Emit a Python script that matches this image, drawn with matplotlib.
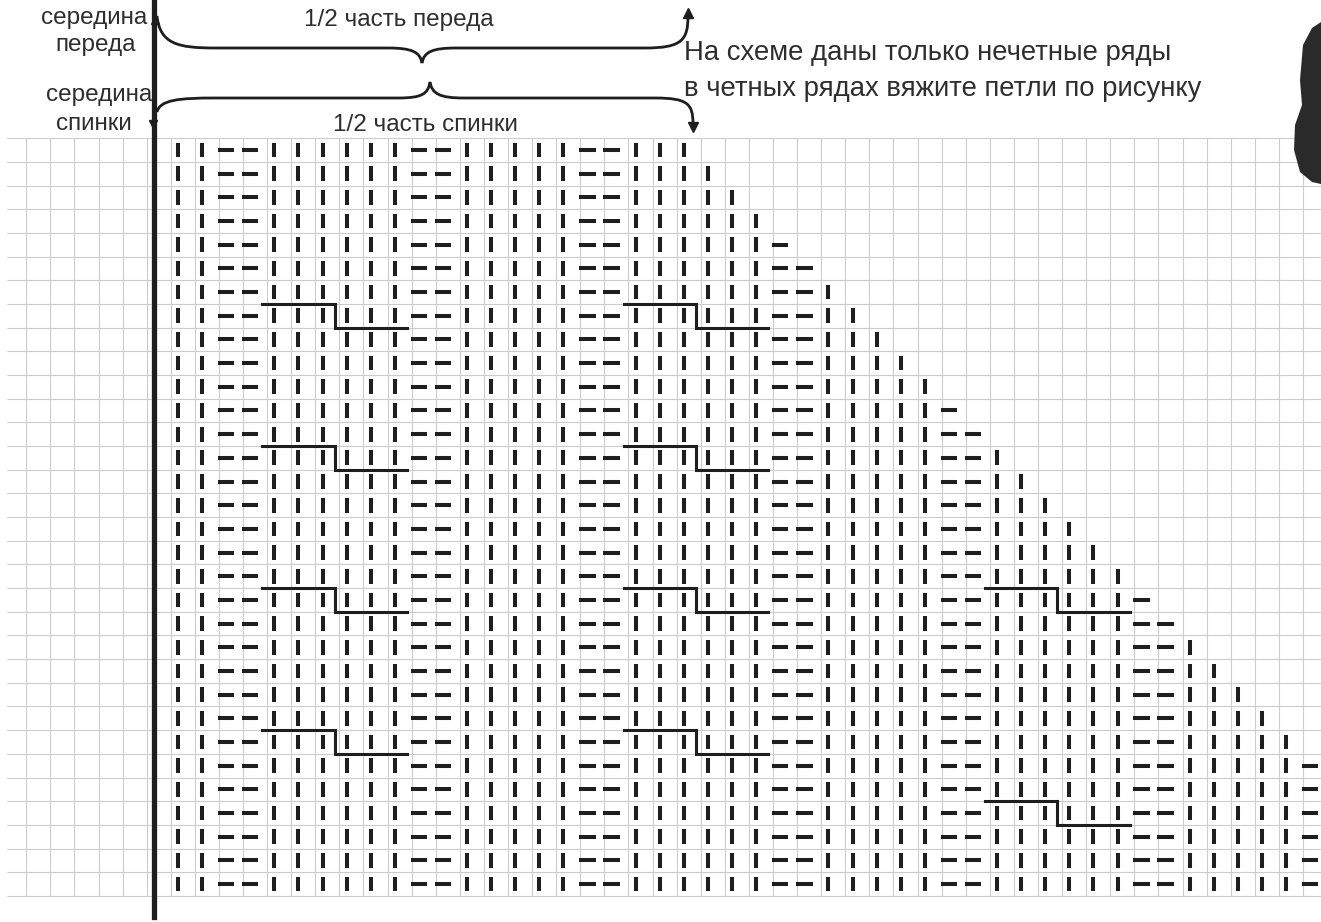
import matplotlib.pyplot as plt
from matplotlib.collections import LineCollection
from matplotlib.path import Path
from matplotlib.patches import PathPatch, Polygon

# Типы петель по столбцам (K = лицевая "|", P = изнаночная "—")
stitches = ("K K P P K K K K K K P P K K K K K P P K K K K K K P P "
            "K K K K K P P K K K K K K P P K K K K K P P K K K K").split()

# Число петель в каждом ряду схемы (сверху вниз)
row_widths = [22, 23, 24, 25, 26, 27, 28, 29, 30, 31, 32, 33, 34, 35, 36, 37,
              38, 39, 40, 41, 42, 43, 44, 45, 46, 47, 48, 49, 50, 51, 52, 53]

# Перекрёст (ряд, первый столбец жгута из 6 петель)
cable_rows = [7, 13, 19, 25, 7, 13, 19, 25, 19, 28]
cable_cols = [4, 4, 4, 4, 19, 19, 19, 19, 34, 34]

label_front = "1/2 часть переда"
label_back = "1/2 часть спинки"
note_lines = ["На схеме даны только нечетные ряды",
              "в четных рядах вяжите петли по рисунку"]

# геометрия картинки (пиксели)
W, H = 1321, 922
X0, CW = 178.0, 24.09   # центр столбца 0, ширина клетки
Y0, RH = 150.0, 23.68   # центр ряда 0, высота клетки


def p(x, y):
    return ((x - X0) / CW, (y - Y0) / RH)


ink = "#1e1e1e"
txt = "#2e2e2e"
plt.rcParams['font.family'] = ['Liberation Sans', 'DejaVu Sans']

fig = plt.figure(figsize=(W / 100, H / 100), dpi=100)
ax = fig.add_axes([0, 0, 1, 1])
ax.set_xlim(-X0 / CW, (W - X0) / CW)
ax.set_ylim((H - Y0) / RH, -Y0 / RH)
ax.axis("off")

n_rows = len(row_widths)
x_left = p(7, 0)[0]
x_right = p(W, 0)[0]

# сетка (миллиметровка)
grid = []
for r in range(n_rows + 1):
    grid.append([(x_left, r - 0.5), (x_right, r - 0.5)])
c = -7
while c - 0.3 < x_right:
    xg = c - 0.3
    if xg >= x_left - 0.05:
        grid.append([(xg, -0.5), (xg, n_rows - 0.5)])
    c += 1
ax.add_collection(LineCollection(grid, colors="#cccccc", linewidths=0.8, zorder=1))

# символы петель
bars, dashes = [], []
for r, w in enumerate(row_widths):
    for col in range(w):
        if stitches[col] == "K":
            bars.append([(col, r - 0.31), (col, r + 0.31)])
        else:
            dashes.append([(col - 0.34, r), (col + 0.34, r)])
ax.add_collection(LineCollection(bars, colors=ink, linewidths=2.9,
                                 capstyle="butt", zorder=3))
ax.add_collection(LineCollection(dashes, colors=ink, linewidths=2.9,
                                 capstyle="butt", zorder=3))

# перекрёсты жгутов
for r, c0 in zip(cable_rows, cable_cols):
    xs = [c0 - 0.5, c0 + 2.5, c0 + 2.5, c0 + 5.5]
    ys = [r - 0.5, r - 0.5, r + 0.5, r + 0.5]
    ax.plot(xs, ys, color=ink, lw=2.2, zorder=4, solid_joinstyle="miter")

# толстая линия середины
ax.plot([p(154, 0)[0]] * 2, [p(0, 0)[1], p(0, 917)[1]], color=ink, lw=3.8, zorder=5)
ax.plot(*p(155, 20), marker="^", ms=6, color=ink, zorder=5)
ax.plot(*p(153, 124), marker="v", ms=6, color=ink, zorder=5)


def brace(points, codes):
    verts = [p(x, y) for x, y in points]
    ax.add_patch(PathPatch(Path(verts, codes), fill=False, ec=ink, lw=2.0, zorder=5))


C4, L2, M = Path.CURVE4, Path.LINETO, Path.MOVETO
top_pts = [(157, 16), (160, 44), (178, 48), (215, 48), (388, 48),
           (412, 48), (420, 52), (422, 63), (424, 52), (432, 48), (456, 48),
           (645, 48), (682, 48), (688, 40), (688, 16)]
top_codes = [M, C4, C4, C4, L2, C4, C4, C4, C4, C4, C4, L2, C4, C4, C4]
brace(top_pts, top_codes)
ax.plot(*p(688, 13), marker="^", ms=7, color=ink, zorder=5)

bot_pts = [(157, 112), (160, 100), (178, 98), (215, 98), (398, 98),
           (422, 98), (428, 94), (430, 82), (432, 94), (440, 98), (464, 98),
           (655, 98), (688, 98), (693, 104), (693, 124)]
brace(bot_pts, top_codes)
ax.plot(*p(693, 127), marker="v", ms=7, color=ink, zorder=5)

# подписи
ax.text(*p(94, 18), "середина", ha="center", va="center", fontsize=17.5, color=txt)
ax.text(*p(96, 45), "переда", ha="center", va="center", fontsize=17.5, color=txt)
ax.text(*p(99, 95), "середина", ha="center", va="center", fontsize=17.5, color=txt)
ax.text(*p(94, 124), "спинки", ha="center", va="center", fontsize=17.5, color=txt)
ax.text(*p(399, 20), label_front, ha="center", va="center", fontsize=17.5, color=txt)
ax.text(*p(425, 125), label_back, ha="center", va="center", fontsize=17.5, color=txt)
ax.text(*p(684, 53), note_lines[0], ha="left", va="center", fontsize=19.8, color=txt)
ax.text(*p(684, 89), note_lines[1], ha="left", va="center", fontsize=19.8, color=txt)

# тёмное пятно скана в правом верхнем углу
blob = [(1321, 22), (1312, 28), (1303, 45), (1300, 80), (1302, 105),
        (1295, 125), (1294, 150), (1300, 172), (1312, 182), (1321, 184)]
ax.add_patch(Polygon([p(x, y) for x, y in blob], closed=True, fc="#2a2a2a",
                     ec="none", zorder=6))

fig.savefig("out.png", dpi=100)
